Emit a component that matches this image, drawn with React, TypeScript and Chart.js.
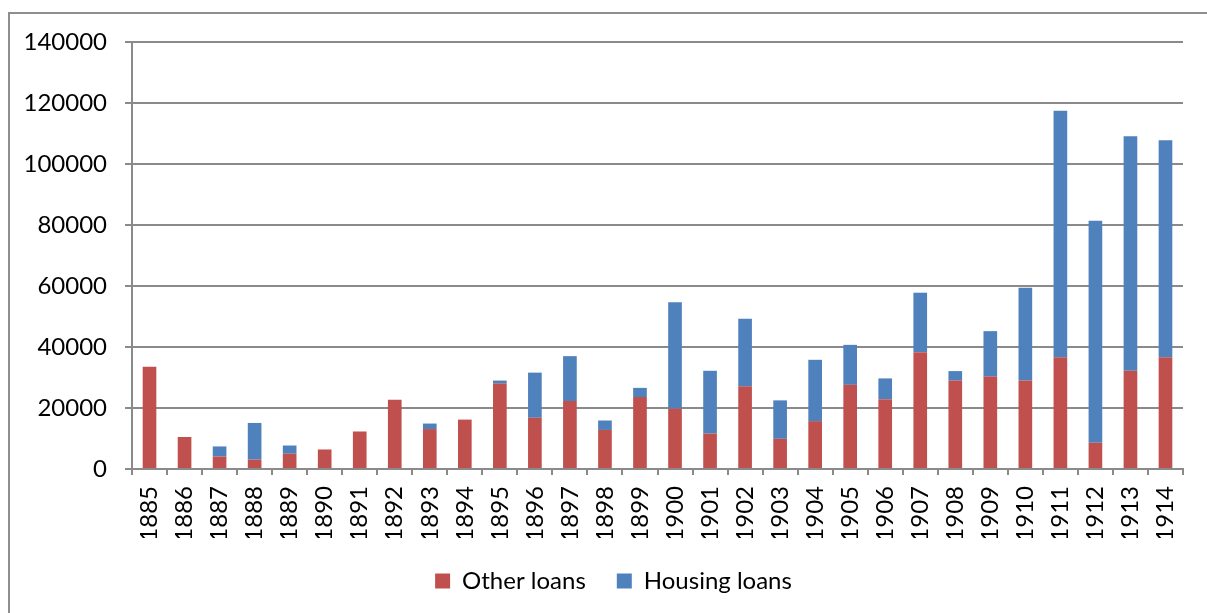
import React, { useEffect, useRef } from "react";
import { Chart, registerables } from "chart.js";

Chart.register(...registerables);

const years = [
  "1885", "1886", "1887", "1888", "1889", "1890", "1891", "1892", "1893", "1894",
  "1895", "1896", "1897", "1898", "1899", "1900", "1901", "1902", "1903", "1904",
  "1905", "1906", "1907", "1908", "1909", "1910", "1911", "1912", "1913", "1914",
];

const otherLoans = [
  33500, 10500, 4100, 3100, 5000, 6400, 12300, 22700, 13100, 16200,
  28000, 16800, 22300, 12800, 23600, 19800, 11600, 27100, 9900, 15700,
  27600, 22900, 38300, 29000, 30300, 29000, 36600, 8600, 32200, 36600,
];

const housingLoans = [
  0, 0, 3300, 12000, 2700, 0, 0, 0, 1800, 0,
  1000, 14800, 14700, 3100, 3000, 34900, 20600, 22200, 12600, 20100,
  13100, 6800, 19500, 3100, 14900, 30400, 80900, 72800, 76900, 71200,
];

const yTicks = [0, 20000, 40000, 60000, 80000, 100000, 120000, 140000];

const FONT = "Lato, 'Liberation Sans', sans-serif";
const GRID = "#8a8a8a";

const legendShift = {
  id: "legendShift",
  afterLayout(chart: any) {
    const lg = chart.legend;
    if (lg) {
      lg.left += 22;
      lg.right += 22;
    }
  },
};

export default function App() {
  const ref = useRef<HTMLCanvasElement | null>(null);

  useEffect(() => {
    if (!ref.current) return;
    const chart = new Chart(ref.current, {
      type: "bar",
      data: {
        labels: years,
        datasets: [
          {
            label: "Other loans",
            data: otherLoans,
            backgroundColor: "#C0504D",
            borderWidth: 0,
            barPercentage: 0.39,
            categoryPercentage: 1,
          },
          {
            label: "Housing loans",
            data: housingLoans,
            backgroundColor: "#4F81BD",
            borderWidth: 0,
            barPercentage: 0.39,
            categoryPercentage: 1,
          },
        ],
      },
      plugins: [legendShift],
      options: {
        responsive: false,
        animation: false,
        layout: { padding: { left: 0, right: 24, top: 42, bottom: 10 } },
        plugins: {
          legend: {
            position: "bottom",
            labels: {
              font: { family: FONT, size: 24 },
              color: "#000",
              boxWidth: 15,
              boxHeight: 15,
              padding: 31,
            },
          },
          tooltip: { enabled: false },
        },
        scales: {
          x: {
            stacked: true,
            afterFit: (s: any) => {
              s.height = 69;
            },
            grid: {
              display: true,
              drawOnChartArea: false,
              drawTicks: true,
              tickLength: 6,
              color: GRID,
              lineWidth: 2,
              offset: true,
            },
            border: { display: true, color: GRID, width: 2 },
            ticks: {
              font: { family: FONT, size: 24 },
              color: "#000",
              maxRotation: 90,
              minRotation: 90,
              padding: 11,
              autoSkip: false,
            },
          },
          y: {
            stacked: true,
            min: 0,
            max: 140000,
            afterFit: (s: any) => {
              s.width = 132;
            },
            afterBuildTicks: (s: any) => {
              s.ticks = yTicks.map((v) => ({ value: v }));
            },
            grid: {
              color: GRID,
              lineWidth: 2,
              drawTicks: true,
              tickLength: 7,
            },
            border: { display: true, color: GRID, width: 2 },
            ticks: {
              font: { family: FONT, size: 24 },
              color: "#000",
              padding: 18,
              callback: (v: any) => String(v),
            },
          },
        },
      },
    });
    const fonts: any = (document as any).fonts;
    if (fonts && fonts.load) {
      fonts.load("24px Lato").then(() => chart.update()).catch(() => {});
    }
    return () => chart.destroy();
  }, []);

  return (
    <div
      style={{
        position: "fixed",
        left: 0,
        top: 0,
        width: 1207,
        height: 613,
        background: "#fff",
        overflow: "hidden",
      }}
    >
      <div
        style={{
          position: "absolute",
          left: 8,
          top: 12,
          width: 1220,
          height: 640,
          border: "2px solid #8e8e8e",
          boxSizing: "border-box",
        }}
      />
      <canvas
        ref={ref}
        width={1207}
        height={613}
        style={{ position: "absolute", left: 0, top: 0, width: 1207, height: 613 }}
      />
    </div>
  );
}
